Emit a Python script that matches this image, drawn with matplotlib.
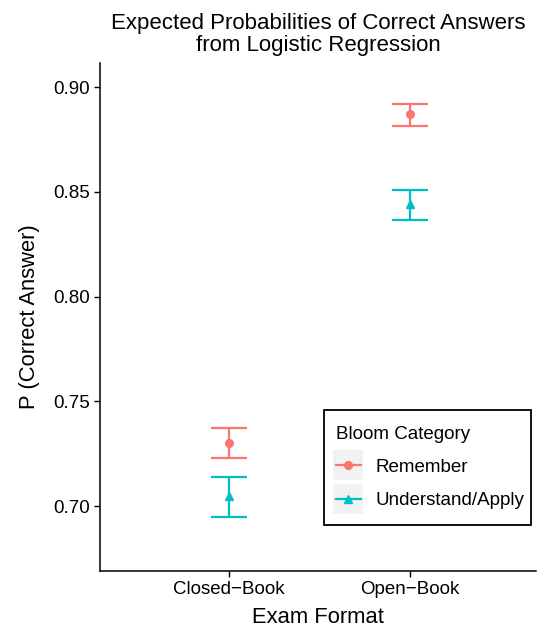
import matplotlib
matplotlib.use("Agg")
import matplotlib.pyplot as plt
from matplotlib.legend_handler import HandlerLine2D
from matplotlib.lines import Line2D
from matplotlib.patches import Rectangle
from matplotlib.transforms import IdentityTransform

plt.rcParams['font.family'] = ['Liberation Sans', 'DejaVu Sans']

formats = ["Closed\u2212Book", "Open\u2212Book"]
categories = ["Remember", "Understand/Apply"]
colors = ["#F8766D", "#00BFC4"]
markers = ["o", "^"]
marker_sizes = [5.5, 6.0]
means = {"Remember": [0.730, 0.887], "Understand/Apply": [0.705, 0.844]}
lower = {"Remember": [0.7229, 0.8814], "Understand/Apply": [0.6947, 0.8365]}
upper = {"Remember": [0.7372, 0.8919], "Understand/Apply": [0.7138, 0.8508]}

W, H = 537, 633
fig = plt.figure(figsize=(W / 100, H / 100), dpi=100)
ax = fig.add_axes([100/W, 1-571/H, 436/W, (571-63)/H])

xs = [1, 2]
for cat, col, mk, ms in zip(categories, colors, markers, marker_sizes):
    m = means[cat]
    lo = [a - b for a, b in zip(m, lower[cat])]
    hi = [b - a for a, b in zip(m, upper[cat])]
    ax.errorbar(xs, m, yerr=[lo, hi], fmt='none', ecolor=col, elinewidth=1.6,
                capsize=13, capthick=1.6)
    ax.plot(xs, m, linestyle='none', marker=mk, color=col, markersize=ms)

ax.set_xlim(0.287, 2.70)
ax.set_ylim(0.669, 0.9115)
ax.set_xticks(xs)
ax.set_xticklabels(formats)
ax.set_yticks([0.70, 0.75, 0.80, 0.85, 0.90])
ax.set_yticklabels(["0.70", "0.75", "0.80", "0.85", "0.90"])
for s in ['top', 'right']:
    ax.spines[s].set_visible(False)
for s in ['left', 'bottom']:
    ax.spines[s].set_linewidth(1.1)
ax.tick_params(axis='both', labelsize=13.5, length=4, width=1.0, color='black',
               labelcolor='black', pad=3)
ax.set_xlabel("Exam Format", fontsize=15.8, labelpad=7)
ax.set_ylabel("P (Correct Answer)", fontsize=15.8, labelpad=10)
ax.set_title("Expected Probabilities of Correct Answers\nfrom Logistic Regression",
             fontsize=16, pad=9, linespacing=1.05)

BOX_PT = 21.6  # key background size in points (~30 px)


class BoxHandler(HandlerLine2D):
    def create_artists(self, legend, orig_handle, xdescent, ydescent, width, height, fontsize, trans):
        cx = -xdescent + width / 2
        cy = -ydescent + height / 2
        bg = Rectangle((cx - BOX_PT / 2, cy - BOX_PT / 2), BOX_PT, BOX_PT,
                       facecolor='#F2F2F2', edgecolor='none', transform=trans)
        arts = super().create_artists(legend, orig_handle, xdescent, ydescent, width, height, fontsize, trans)
        return [bg] + list(arts)


handles = [Line2D([0], [0], color=c, marker=mk, markersize=ms, linewidth=1.6)
           for c, mk, ms in zip(colors, markers, marker_sizes)]
leg = ax.legend(handles, categories, title="Bloom Category", loc='lower right',
                bbox_to_anchor=((531 + 9) / W, 1 - 525 / H), bbox_transform=fig.transFigure,
                fontsize=13.5, title_fontsize=13.5, frameon=False,
                handlelength=1.35, handletextpad=0.75,
                labelspacing=0.85, borderpad=0.85, borderaxespad=0,
                handler_map={Line2D: BoxHandler()})
leg._legend_box.align = "left"
leg.set_zorder(5)

# legend frame drawn separately (ggplot-style asymmetric padding)
fig.canvas.draw()
bb = leg.get_window_extent()
frame = Rectangle((bb.x0 + 4, bb.y0), bb.width - 13, bb.height,
                  transform=IdentityTransform(), facecolor='white',
                  edgecolor='black', linewidth=1.3, zorder=4.9)
ax.add_artist(frame)

fig.savefig("out.png", dpi=100)
